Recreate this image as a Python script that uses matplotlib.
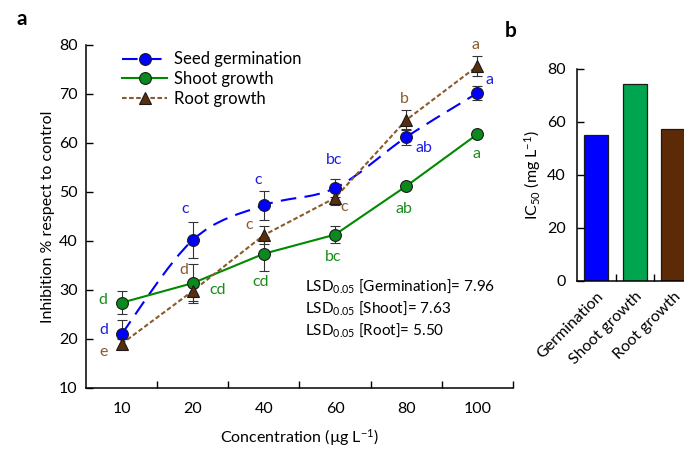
import matplotlib
matplotlib.use("Agg")
import matplotlib.pyplot as plt
import numpy as np
from matplotlib.path import Path
from matplotlib.patches import PathPatch
from matplotlib.lines import Line2D

plt.rcParams['font.family'] = ['Lato', 'DejaVu Sans']
plt.rcParams['mathtext.fontset'] = 'custom'
plt.rcParams['mathtext.rm'] = 'Lato'
plt.rcParams['mathtext.it'] = 'Lato:italic'
plt.rcParams['mathtext.bf'] = 'Lato:bold'

# ---- data ----
conc_labels = ['10', '20', '40', '60', '80', '100']
germ = [21.0, 40.2, 47.3, 50.8, 61.2, 70.2]
germ_err = [2.9, 3.6, 3.0, 1.8, 1.6, 1.5]
shoot = [27.4, 31.4, 37.4, 41.3, 51.2, 61.8]
shoot_err = [2.3, 4.0, 3.5, 1.7, 0.5, 0.5]
root = [19.0, 29.8, 41.2, 48.8, 64.7, 75.7]
root_err = [1.0, 2.0, 1.9, 1.5, 2.0, 2.0]
germ_letters = ['d', 'c', 'c', 'bc', 'ab', 'a']
shoot_letters = ['d', 'cd', 'cd', 'bc', 'ab', 'a']
root_letters = ['e', 'd', 'c', 'c', 'b', 'a']
lsd_names = ['Germination', 'Shoot', 'Root']
lsd_values = ['7.96', '7.63', '5.50']

ic_labels = ['Germination', 'Shoot growth', 'Root growth']
ic_values = [55.0, 74.2, 57.3]

# ---- styles ----
c_blue = '#0000FF'
c_green = '#008A00'
c_green_face = '#0A8A1E'
c_brown_line = '#8B5A2B'
c_brown_face = '#5A2D0C'
t_blue = '#1F1FE0'
t_green = '#1A8C1A'
t_brown = '#8B5A2B'

fig = plt.figure(figsize=(6.84, 4.5), dpi=100)
ax = fig.add_axes([0.1257, 0.1378, 0.6243, 0.7622])
x = np.arange(len(conc_labels))


def smooth_path(xs, ys):
    xs = np.asarray(xs, float)
    ys = np.asarray(ys, float)
    pts = np.column_stack([xs, ys])
    verts = [pts[0]]
    codes = [Path.MOVETO]
    n = len(pts)
    for i in range(n - 1):
        p0 = pts[i - 1] if i > 0 else pts[i]
        p1 = pts[i]
        p2 = pts[i + 1]
        p3 = pts[i + 2] if i + 2 < n else pts[i + 1]
        c1 = p1 + (p2 - p0) / 6.0
        c2 = p2 - (p3 - p1) / 6.0
        verts += [c1, c2, p2]
        codes += [Path.CURVE4] * 3
    return Path(verts, codes)


blue_ls = (0, (7.5, 4))
brown_ls = (0, (2.2, 1.2))

# blue smoothed dashed line
patch = PathPatch(smooth_path(x, germ), fill=False, edgecolor=c_blue, lw=1.5,
                  linestyle=blue_ls, zorder=2)
ax.add_patch(patch)
ax.plot(x, shoot, color=c_green, lw=1.5, zorder=2)
ax.plot(x, root, color=c_brown_line, lw=1.5, linestyle=brown_ls, zorder=2)

ekw = dict(fmt='none', ecolor='#333333', elinewidth=0.8, capsize=3.5, capthick=0.8, zorder=3)
ax.errorbar(x, germ, yerr=germ_err, **ekw)
ax.errorbar(x, shoot, yerr=shoot_err, **ekw)
ax.errorbar(x, root, yerr=root_err, **ekw)

ax.plot(x, germ, 'o', ms=8.5, mfc=c_blue, mec='#1a1a1a', mew=0.8, zorder=4)
ax.plot(x, shoot, 'o', ms=8.5, mfc=c_green_face, mec='#1a1a1a', mew=0.8, zorder=4)
ax.plot(x, root, '^', ms=8.5, mfc=c_brown_face, mec='#1a1a1a', mew=0.8, zorder=5)

germ_off = [(-18, 4), (-8, 31), (-6, 25), (-1, 28), (18, -11), (12, 13)]
shoot_off = [(-19, 3), (25, -7), (-3, -28), (-2, -22), (-2, -23), (-1, -20)]
root_off = [(-18, -8), (-9, 21), (-15, 10), (9, -9), (-2, 21), (-2, 21)]
for vals, lets, offs, col in [(germ, germ_letters, germ_off, t_blue),
                              (shoot, shoot_letters, shoot_off, t_green),
                              (root, root_letters, root_off, t_brown)]:
    for xi, v, l, o in zip(x, vals, lets, offs):
        ax.annotate(l, (xi, v), xytext=o, textcoords='offset pixels',
                    ha='center', va='center', color=col, fontsize=11.5)

ax.set_xlim(-0.5, len(conc_labels) - 0.5)
ax.set_ylim(10, 80)
ax.set_yticks(np.arange(10, 81, 10))
ax.set_xticks(x)
ax.set_xticklabels(conc_labels)
ax.set_xticks(np.arange(0.5, len(conc_labels), 1.0), minor=True)
ax.tick_params(axis='x', which='major', length=0, labelsize=11.5, pad=10)
ax.tick_params(axis='x', which='minor', direction='in', length=5, width=1)
ax.tick_params(axis='y', direction='in', length=5, width=1, labelsize=11.5, pad=6)
for s in ['top', 'right']:
    ax.spines[s].set_visible(False)
for s in ['left', 'bottom']:
    ax.spines[s].set_linewidth(1.1)
ax.set_ylabel('Inhibition % respect to control', fontsize=11.5, labelpad=3)
ax.set_xlabel('Concentration (µg L$^{-1}$)', fontsize=11.5, labelpad=8)

handles = [
    Line2D([], [], color=c_blue, lw=1.5, linestyle=blue_ls, marker='o', ms=8.5,
           mfc=c_blue, mec='#1a1a1a', mew=0.8),
    Line2D([], [], color=c_green, lw=1.5, marker='o', ms=8.5,
           mfc=c_green_face, mec='#1a1a1a', mew=0.8),
    Line2D([], [], color=c_brown_line, lw=1.5, linestyle=brown_ls, marker='^', ms=8.5,
           mfc=c_brown_face, mec='#1a1a1a', mew=0.8),
]
ax.legend(handles, ['Seed germination', 'Shoot growth', 'Root growth'], loc='upper left',
          bbox_to_anchor=(0.05, 1.025), frameon=False, fontsize=12, handlelength=2.7,
          labelspacing=0.22, handletextpad=0.4)

for i, (nm, v) in enumerate(zip(lsd_names, lsd_values)):
    ax.text(0.512, 0.298 - i * 0.064, 'LSD$_{0.05}$ [' + nm + ']= ' + v,
            transform=ax.transAxes, fontsize=11, ha='left', va='center')

fig.text(0.024, 0.958, 'a', fontsize=15, fontweight='bold', ha='left', va='center')
fig.text(0.738, 0.932, 'b', fontsize=15, fontweight='bold', ha='left', va='center')

# ---- bar chart ----
bx = fig.add_axes([0.8436, 0.3756, 0.1689, 0.4711])
bxi = np.arange(len(ic_labels))
bx.bar(bxi, ic_values, width=0.62, color=['#0000FF', '#00A550', '#5C2A06'],
       edgecolor='#1a1a1a', linewidth=0.9)
bx.set_xlim(-0.5, len(ic_labels) - 0.5)
bx.set_ylim(0, 80)
bx.set_yticks(np.arange(0, 81, 20))
bx.set_xticks(bxi)
bx.set_xticklabels(ic_labels, rotation=45, ha='right', rotation_mode='anchor')
bx.set_xticks(np.arange(0.5, len(ic_labels) - 0.5, 1.0), minor=True)
bx.tick_params(axis='x', which='major', length=0, labelsize=11.5, pad=6)
bx.tick_params(axis='x', which='minor', direction='in', length=5, width=1)
bx.tick_params(axis='y', direction='in', length=5, width=1, labelsize=11.5, pad=8)
for s in ['top', 'right']:
    bx.spines[s].set_visible(False)
for s in ['left', 'bottom']:
    bx.spines[s].set_linewidth(1.1)
bx.set_ylabel('IC$_{50}$ (mg L$^{-1}$)', fontsize=11.5, labelpad=3)

fig.savefig('out.png', dpi=100)
